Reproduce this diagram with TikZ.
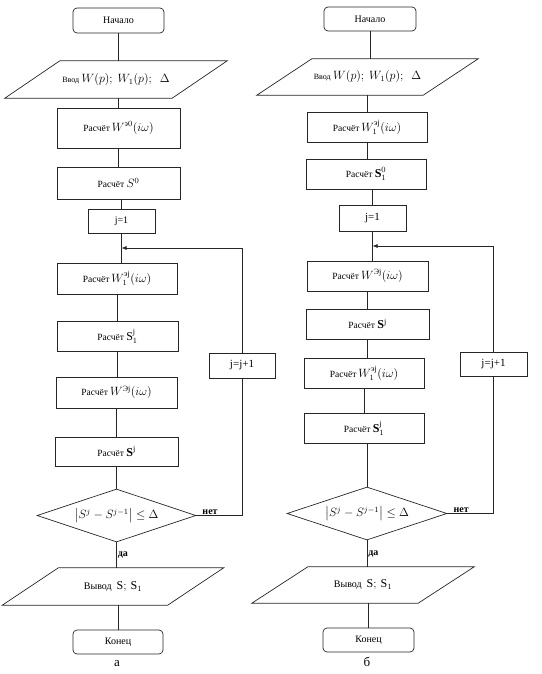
\documentclass[tikz,border=0pt]{standalone}
\usepackage{fontspec}
\usepackage{amsmath}
\setmainfont{Liberation Serif}
\usetikzlibrary{shapes.geometric,arrows.meta,calc}
\begin{document}
\begin{tikzpicture}[x=1pt,y=-1pt,
  every node/.style={font=\fontsize{10}{12}\selectfont, inner sep=1pt},
  line/.style={draw=black!85, line width=0.7pt},
  termbox/.style={line, rectangle, rounded corners=4pt},
  procbox/.style={line, rectangle},
  parabox/.style={rectangle, draw=none},
  decbox/.style={line, diamond, aspect=3, inner sep=0pt},
  lbl/.style={font=\bfseries\fontsize{10}{12}\selectfont},
  arr/.style={line, -{Latex[length=5pt,width=4pt]}}
]
\useasboundingbox (0,0) rectangle (541,674);
\newcommand\rasch{\fontsize{9.5}{11}\selectfont Расчёт}
\newcommand\mth[1]{{\fontsize{12}{14}\selectfont$#1$}}
% ---------------- chart a ----------------
\node[termbox, minimum width=91, minimum height=25] (nA) at (118.5,20.5) {Начало};
\node[parabox, minimum width=167, minimum height=37] (inA) at (116,79.5) {{\fontsize{8}{10}\selectfont Ввод} \mth{W(p);\ W_1(p);\ \ \Delta}};
\draw[line] ($(inA.north west)+(27.5,0)$) -- ($(inA.north east)+(27.5,0)$) -- ($(inA.south east)+(-27.5,0)$) -- ($(inA.south west)+(-27.5,0)$) -- cycle;
\node[procbox, minimum width=123, minimum height=40] (a1) at (118.5,128) {\rasch\mth{\,W^{\text{э}0}(i\omega)}};
\node[procbox, minimum width=123, minimum height=32] (a2) at (118.5,183) {\rasch\ \mth{S^0}};
\node[procbox, minimum width=67, minimum height=24] (jA) at (121.5,221) {j=1};
\coordinate (loopA) at (121.5,248);
\node[procbox, minimum width=120, minimum height=31] (a3) at (117,278.5) {\rasch\mth{\,W_1^{\text{эj}}(i\omega)}};
\node[procbox, minimum width=121, minimum height=30] (a4) at (117.5,336) {\rasch\ \mth{\mathrm{S}_1^{\mathrm{j}}}};
\node[procbox, minimum width=121, minimum height=31] (a5) at (116.5,392.5) {\rasch\mth{\,W^{\text{Эj}}(i\omega)}};
\node[procbox, minimum width=123, minimum height=29] (a6) at (116.5,451.5) {\rasch\ \mth{\mathbf{S}^{\mathrm{j}}}};
\node[decbox, minimum width=159, minimum height=53] (dA) at (116.5,515.5) {\mth{\bigl|S^j-S^{j-1}\bigr|\le\Delta}};
\node[parabox, minimum width=165, minimum height=37] (outA) at (113,586.5) {Вывод\ \ \mth{\mathrm{S};\,\mathrm{S}_1}};
\draw[line] ($(outA.north west)+(28,0)$) -- ($(outA.north east)+(28,0)$) -- ($(outA.south east)+(-28,0)$) -- ($(outA.south west)+(-28,0)$) -- cycle;
\node[termbox, minimum width=90, minimum height=24] (eA) at (118,642) {Конец};
\node[procbox, minimum width=66, minimum height=25, font=\fontsize{11}{13}\selectfont] (jjA) at (242,365.5) {j=j+1};
\node[font=\fontsize{13}{15}\selectfont] (capA) at (117,664) {а};

\draw[line] (nA.south) -- (nA.south |- inA.north);
\draw[line] (a1.north |- inA.south) -- (a1.north);
\draw[line] (a1.south) -- (a1.south |- a2.north);
\draw[line] (jA.north |- a2.south) -- (jA.north);
\draw[line] (jA.south) -- (loopA);
\draw[line] (loopA) -- (loopA |- a3.north);
\draw[line] (a3.south) -- (a3.south |- a4.north);
\draw[line] (a4.south) -- (a4.south |- a5.north);
\draw[line] (a5.south) -- (a5.south |- a6.north);
\draw[line] (dA.north |- a6.south) -- (dA.north);
\draw[line] (dA.south) -- node[lbl, right, pos=0.5] {да} (dA.south |- outA.north);
\draw[line] (eA.north |- outA.south) -- (eA.north);
\draw[line] (dA.east) -- node[lbl, above, pos=0.3] {нет} (dA.east -| jjA.south) -- (jjA.south);
\draw[arr] (jjA.north) |- (loopA);

% ---------------- chart b ----------------
\node[termbox, minimum width=92, minimum height=24] (nB) at (370,19) {Начало};
\node[parabox, minimum width=166, minimum height=36] (inB) at (367.5,77) {{\fontsize{8}{10}\selectfont Ввод} \mth{W(p);\ W_1(p);\ \ \Delta}};
\draw[line] ($(inB.north west)+(27.5,0)$) -- ($(inB.north east)+(27.5,0)$) -- ($(inB.south east)+(-27.5,0)$) -- ($(inB.south west)+(-27.5,0)$) -- cycle;
\node[procbox, minimum width=120, minimum height=30] (b1) at (367,127) {\rasch\mth{\,W_1^{\text{эj}}(i\omega)}};
\node[procbox, minimum width=120, minimum height=30] (b2) at (366,174) {\rasch\ \mth{\mathbf{S}_1^{0}}};
\node[procbox, minimum width=67, minimum height=26, font=\fontsize{11}{13}\selectfont] (jB) at (372.5,218) {j=1};
\coordinate (loopB) at (372.5,246);
\node[procbox, minimum width=121, minimum height=30] (b3) at (367.5,276) {\rasch\mth{\,W^{\text{Эj}}(i\omega)}};
\node[procbox, minimum width=123, minimum height=30] (b4) at (367.5,324) {\rasch\ \mth{\mathbf{S}^{\mathrm{j}}}};
\node[procbox, minimum width=120, minimum height=30] (b5) at (364,373) {\rasch\mth{\,W_1^{\text{эj}}(i\omega)}};
\node[procbox, minimum width=120, minimum height=30] (b6) at (364,428) {\rasch\ \mth{\mathbf{S}_1^{\mathrm{j}}}};
\node[decbox, minimum width=160, minimum height=53] (dB) at (367,513.5) {\mth{\bigl|S^j-S^{j-1}\bigr|\le\Delta}};
\node[parabox, minimum width=166, minimum height=36] (outB) at (363,585) {Вывод\ \ \mth{\mathrm{S};\,\mathrm{S}_1}};
\draw[line] ($(outB.north west)+(28,0)$) -- ($(outB.north east)+(28,0)$) -- ($(outB.south east)+(-28,0)$) -- ($(outB.south west)+(-28,0)$) -- cycle;
\node[termbox, minimum width=91, minimum height=24] (eB) at (368.5,640) {Конец};
\node[procbox, minimum width=67, minimum height=24, font=\fontsize{11}{13}\selectfont] (jjB) at (493.5,364) {j=j+1};
\node[font=\fontsize{13}{15}\selectfont] (capB) at (367,662) {б};

\draw[line] (nB.south) -- (nB.south |- inB.north);
\draw[line] (b1.north |- inB.south) -- (b1.north);
\draw[line] (b1.south) -- (b1.south |- b2.north);
\draw[line] (jB.north |- b2.south) -- (jB.north);
\draw[line] (jB.south) -- (loopB);
\draw[line] (loopB) -- (loopB |- b3.north);
\draw[line] (b3.south) -- (b3.south |- b4.north);
\draw[line] (b4.south) -- (b4.south |- b5.north);
\draw[line] (b5.south) -- (b5.south |- b6.north);
\draw[line] (dB.north |- b6.south) -- (dB.north);
\draw[line] (dB.south) -- node[lbl, right, pos=0.5] {да} (dB.south |- outB.north);
\draw[line] (eB.north |- outB.south) -- (eB.north);
\draw[line] (dB.east) -- node[lbl, above, pos=0.3] {нет} (dB.east -| jjB.south) -- (jjB.south);
\draw[arr] (jjB.north) |- (loopB);
\end{tikzpicture}
\end{document}
